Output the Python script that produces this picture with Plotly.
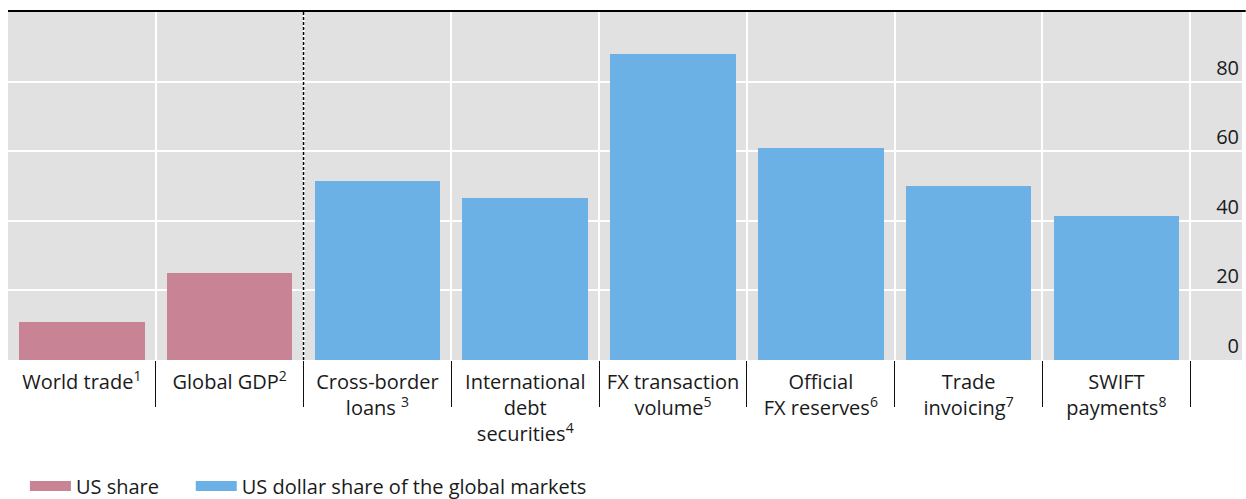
import plotly.graph_objects as go

categories = [
    "World trade<sup>1</sup>",
    "Global GDP<sup>2</sup>",
    "Cross-border<br>loans <sup>3</sup>",
    "International<br>debt<br>securities<sup>4</sup>",
    "FX transaction<br>volume<sup>5</sup>",
    "Official<br>FX reserves<sup>6</sup>",
    "Trade<br>invoicing<sup>7</sup>",
    "SWIFT<br>payments<sup>8</sup>",
]
us_share = [11, 25]
usd_share = [51.5, 46.5, 88, 61, 50, 41.5]
y_ticks = [0, 20, 40, 60, 80]

PINK = "#C88494"
BLUE = "#6CB1E6"
BG = "#E1E1E1"
FONT = "Open Sans"
TXT = "#1a1a1a"

n_us = len(us_share)
x_all = list(range(len(categories)))
x_us = x_all[:n_us]
x_usd = x_all[n_us:]
boundaries = [i + 0.5 for i in x_all]

fig = go.Figure()
fig.add_trace(go.Bar(x=x_us, y=us_share, marker=dict(color=PINK, line=dict(width=0)),
                     width=0.85, showlegend=False, name="US share"))
fig.add_trace(go.Bar(x=x_usd, y=usd_share, marker=dict(color=BLUE, line=dict(width=0)),
                     width=0.85, showlegend=False, name="US dollar share of the global markets"))
# legend entries
fig.add_trace(go.Scatter(x=[None], y=[None], mode="lines", line=dict(color=PINK, width=14),
                         name="US share", legend="legend"))
fig.add_trace(go.Scatter(x=[None], y=[None], mode="lines", line=dict(color=BLUE, width=14),
                         name="US dollar share of the global markets", legend="legend2"))

leg_common = dict(orientation="h", xref="container", yref="container",
                  xanchor="left", y=0.026, yanchor="middle",
                  font=dict(size=20, color=TXT), itemwidth=41, bgcolor="rgba(0,0,0,0)")

fig.update_layout(
    width=1246, height=499,
    margin=dict(l=8, r=4, t=12, b=139, autoexpand=False),
    paper_bgcolor="white",
    plot_bgcolor=BG,
    font=dict(family=FONT, size=20, color=TXT),
    bargap=0,
    legend=dict(x=0.020, **leg_common),
    legend2=dict(x=0.1531, **leg_common),
    xaxis=dict(
        range=[-0.5, 7.85], automargin=False,
        tickmode="array", tickvals=x_all, ticktext=categories,
        ticks="", showgrid=False, zeroline=False, showline=False,
        ticklabelstandoff=8,
        tickfont=dict(size=20, color=TXT),
        minor=dict(tickmode="array", tickvals=boundaries, ticks="outside", ticklen=46,
                   tickcolor="#111111", tickwidth=1.3, showgrid=True,
                   gridcolor="white", gridwidth=2),
    ),
    yaxis=dict(
        range=[0, 100], side="right", tickmode="array", tickvals=y_ticks,
        ticklabelposition="inside top", ticks="", automargin=False,
        showgrid=True, gridcolor="white", gridwidth=2, zeroline=False,
        tickfont=dict(size=20, color=TXT),
    ),
    shapes=[
        dict(type="line", xref="x", yref="paper", x0=x_us[-1] + 0.5, x1=x_us[-1] + 0.5,
             y0=0, y1=1, line=dict(color="black", width=1.5, dash="3px,2px")),
        dict(type="line", xref="paper", yref="paper", x0=0, x1=1.003, y0=1.003, y1=1.003,
             line=dict(color="black", width=2)),
    ],
)

fig.write_html("out.html", config={"displayModeBar": False},
               post_script="document.body.style.margin='0px';")
